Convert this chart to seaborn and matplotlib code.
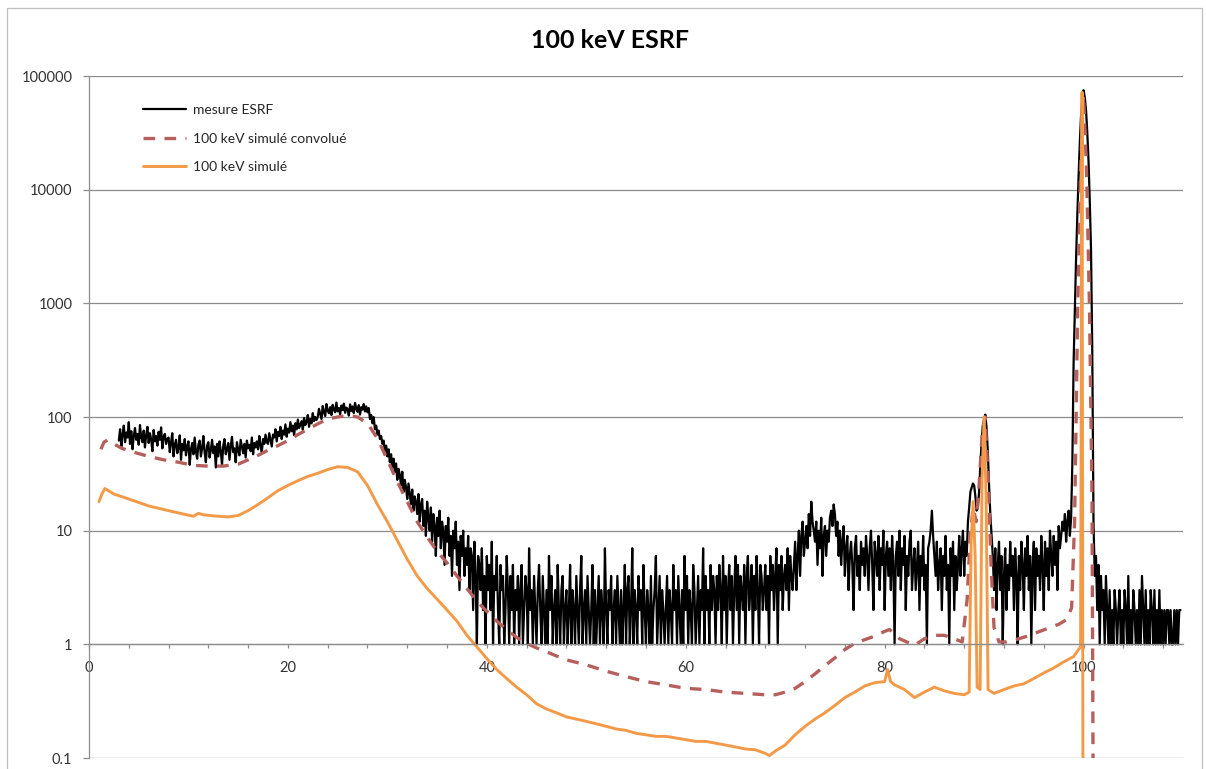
import numpy as np
import pandas as pd
import matplotlib
matplotlib.use("Agg")
import matplotlib.pyplot as plt
from matplotlib.ticker import FixedLocator, FuncFormatter, NullLocator
import seaborn as sns

# measured spectrum (ESRF), channels every 0.125 keV starting at 3 keV (one row = 2.5 keV)
meas_start = 3.0
meas_step = 0.125
meas_counts = [
    62, 78, 55, 70, 84, 60, 73, 66, 90, 58, 75, 52, 68, 80, 63, 71, 57, 85, 66, 60,
    76, 54, 69, 82, 59, 72, 64, 50, 77, 61, 68, 56, 74, 63, 81, 53, 67, 71, 58, 64,
    66, 49, 60, 72, 45, 57, 63, 48, 54, 69, 42, 58, 51, 64, 46, 55, 61, 38, 52, 59,
    47, 66, 50, 43, 57, 62, 45, 53, 68, 49, 40, 56, 60, 44, 51, 63, 48, 55, 36, 58,
    45, 61, 50, 38, 56, 64, 47, 52, 59, 42, 55, 67, 49, 53, 40, 60, 51, 46, 63, 55,
    48, 58, 44, 62, 53, 57, 50, 66, 47, 59, 54, 61, 52, 68, 56, 49, 64, 58, 70, 60,
    58, 72, 63, 55, 70, 66, 78, 61, 74, 68, 82, 64, 76, 70, 86, 67, 79, 73, 90, 75,
    84, 69, 88, 78, 95, 80, 86, 92, 77, 98, 85, 90, 104, 82, 96, 88, 108, 92, 100, 94,
    100, 118, 106, 96, 125, 110, 102, 130, 114, 108, 122, 104, 128, 116, 110, 134, 112, 120, 106, 126,
    115, 131, 109, 121, 117, 103, 129, 113, 124, 108, 133, 118, 111, 127, 105, 122, 116, 130, 112, 124,
    110, 120, 96, 104, 88, 100, 78, 84, 70, 76, 64, 68, 58, 62, 50, 56, 45, 52, 40, 47,
    36, 43, 33, 39, 28, 35, 31, 25, 33, 22, 28, 24, 19, 26, 21, 17, 23, 15, 20, 18,
    14, 21, 12, 17, 19, 11, 15, 9, 18, 13, 10, 16, 8, 14, 11, 6, 13, 9, 15, 7,
    12, 10, 5, 11, 8, 13, 6, 9, 4, 10, 7, 12, 5, 8, 3, 9, 6, 10, 4, 7,
    5, 9, 3, 7, 6, 2, 8, 4, 1, 6, 5, 3, 7, 2, 4, 1, 6, 3, 5, 2,
    8, 1, 4, 3, 6, 2, 1, 5, 3, 4, 1, 2, 6, 3, 1, 4, 2, 5, 1, 3,
    2, 4, 1, 3, 5, 1, 2, 4, 3, 1, 7, 2, 3, 1, 4, 2, 1, 3, 5, 2,
    1, 4, 2, 1, 3, 1, 6, 2, 4, 1, 2, 3, 1, 5, 2, 1, 3, 4, 1, 2,
    3, 1, 2, 5, 1, 3, 2, 1, 4, 2, 1, 3, 6, 1, 2, 3, 1, 4, 2, 1,
    2, 5, 1, 3, 1, 2, 4, 1, 3, 2, 1, 7, 2, 1, 3, 2, 4, 1, 2, 3,
    1, 4, 2, 1, 3, 1, 2, 5, 1, 3, 4, 1, 2, 7, 1, 3, 2, 1, 4, 2,
    3, 1, 5, 2, 1, 3, 2, 1, 4, 1, 2, 3, 6, 1, 2, 4, 1, 3, 2, 1,
    2, 4, 1, 3, 2, 1, 5, 2, 3, 1, 4, 2, 1, 3, 1, 6, 2, 4, 1, 3,
    2, 1, 5, 3, 1, 2, 4, 1, 3, 2, 7, 1, 4, 2, 3, 1, 5, 2, 4, 3,
    1, 4, 2, 5, 3, 1, 6, 2, 4, 1, 3, 5, 2, 4, 1, 3, 6, 2, 5, 1,
    4, 3, 2, 5, 1, 4, 6, 2, 3, 5, 1, 4, 2, 6, 3, 1, 5, 4, 2, 3,
    5, 2, 4, 1, 6, 3, 5, 2, 4, 7, 1, 5, 3, 6, 2, 4, 5, 3, 7, 2,
    6, 4, 3, 5, 8, 3, 6, 10, 4, 9, 12, 6, 8, 11, 7, 14, 9, 18, 12, 10,
    8, 12, 5, 10, 7, 13, 4, 9, 11, 6, 10, 8, 13, 15, 11, 17, 14, 9, 12, 6,
    10, 5, 8, 11, 4, 7, 9, 3, 6, 8, 5, 2, 7, 9, 4, 6, 3, 8, 5, 7,
    4, 9, 6, 3, 7, 10, 5, 2, 8, 6, 4, 9, 3, 7, 5, 10, 2, 6, 8, 4,
    7, 3, 9, 5, 1, 6, 8, 4, 10, 3, 7, 5, 9, 2, 6, 4, 8, 10, 3, 5,
    7, 3, 5, 8, 2, 6, 4, 9, 3, 5, 1, 7, 8, 10, 15, 9, 6, 4, 8, 3,
    5, 7, 2, 6, 4, 9, 3, 5, 1, 7, 4, 8, 2, 6, 3, 5, 9, 4, 7, 10,
    4, 8, 6, 12, 16, 22, 24, 26, 25, 20, 15, 16, 22, 38, 60, 85, 95, 105, 80, 50,
    25, 14, 9, 6, 3, 7, 2, 5, 8, 3, 6, 1, 4, 7, 2, 5, 3, 8, 4, 6,
    2, 7, 4, 1, 6, 3, 8, 5, 2, 7, 4, 9, 3, 6, 1, 5, 8, 2, 7, 4,
    6, 3, 9, 5, 2, 8, 4, 7, 3, 10, 6, 4, 9, 5, 8, 3, 11, 7, 9, 12,
    10, 14, 8, 12, 15, 9, 13, 40, 300, 900, 2500, 6000, 13000, 26000, 45000, 62000, 75000, 65000, 50000, 32000,
    18000, 8000, 3000, 400, 12, 4, 6, 2, 5, 1, 4, 2, 3, 1, 4, 2, 1, 3, 1, 2,
    1, 3, 2, 1, 2, 3, 1, 2, 1, 3, 2, 1, 4, 1, 2, 1, 3, 2, 1, 2,
    1, 3, 1, 4, 2, 1, 3, 1, 2, 1, 3, 2, 1, 3, 1, 2, 1, 3, 1, 2,
    1, 2, 1, 2, 2, 1, 2, 1, 1, 2, 1, 2, 1, 2, 2,
]

# simulated spectrum convolved with detector response
conv_energy = [1.2, 1.5, 1.9, 2.5, 3.3, 4.5, 6, 7.5, 9, 10.5, 12, 13.5, 15, 16, 17, 18, 19, 20,
               21, 22, 23, 24, 25, 26, 27, 28, 29, 30, 31, 32, 33, 34, 35, 36, 37, 38, 39, 40,
               41, 42, 43, 44, 45, 46, 47, 48, 50, 52, 54, 56, 58, 60, 62, 64, 66, 68, 69, 70,
               71, 72, 73, 74, 75, 76, 77, 78, 79, 80, 80.5, 81.5, 83, 84, 85, 86, 87, 87.8,
               88.3, 88.6, 88.9, 89.2, 89.5, 89.8, 90.1, 90.4, 90.7, 91.0, 91.5, 92.2, 93.5,
               94.6, 95.6, 96.6, 97.5, 98.3, 98.8, 99.1, 99.4, 99.7, 100.0, 100.3, 100.6,
               100.85, 101.0]
conv_counts = [52, 60, 63, 58, 53, 49, 45, 42, 40, 37.5, 37, 37, 38.5, 42, 46, 51, 56, 62,
               70, 78, 87, 96, 100, 103, 100, 88, 65, 42, 27, 18, 12, 8.8, 6.6, 5.2, 4.0, 3.1, 2.4, 1.95,
               1.6, 1.35, 1.15, 1.02, 0.93, 0.86, 0.79, 0.73, 0.66, 0.58, 0.52, 0.47, 0.44, 0.41, 0.40, 0.38, 0.37, 0.36, 0.36, 0.38,
               0.41, 0.47, 0.55, 0.65, 0.76, 0.9, 1.02, 1.1, 1.18, 1.3, 1.35, 1.12, 0.98, 1.12, 1.2, 1.2, 1.12, 1.05,
               2.5, 9, 16, 12, 25, 70, 100, 30, 5, 1.4, 1.05, 1.05, 1.12,
               1.2, 1.3, 1.4, 1.5, 1.65, 2.1, 12, 800, 15000, 68000, 15000, 900,
               20, 0.01]

# raw simulated spectrum
sim_energy = [1.0, 1.3, 1.6, 2.5, 4, 6, 8, 9.5, 10.5, 11, 11.5, 12.5, 14, 15, 16, 17, 18, 19,
              20, 21, 22, 23, 24, 25, 26, 27, 28, 29, 30, 31, 32, 33, 34, 35, 36, 37, 38, 39,
              40, 41, 42, 43, 44, 45, 46, 47, 48, 49, 50, 51, 52, 53, 54, 55, 56, 57, 58, 59,
              60, 61, 62, 63, 64, 65, 66, 67, 68, 68.4, 69, 70, 71, 72, 73, 74, 75, 76, 77, 78,
              79, 80, 80.3, 80.6, 81, 82, 83, 84, 85, 86, 87, 88, 88.5, 88.7, 88.9, 89.1, 89.3,
              89.6, 89.8, 90.0, 90.2, 90.4, 91, 92, 93, 94, 95, 96, 97, 98, 99, 99.5, 99.7,
              99.85, 99.95]
sim_counts = [18, 21, 23.5, 21, 19, 16.5, 15, 14, 13.4, 14.2, 13.8, 13.5, 13.2, 13.6, 15, 17, 19.5, 22.5,
              25, 27.5, 30, 32, 34.5, 36.5, 36, 33, 25, 17, 12, 8.2, 5.6, 4.0, 3.1, 2.5, 2.0, 1.6, 1.2, 0.95,
              0.75, 0.6, 0.5, 0.42, 0.36, 0.30, 0.27, 0.25, 0.23, 0.22, 0.21, 0.20, 0.19, 0.18, 0.175, 0.165, 0.16, 0.155, 0.155, 0.15,
              0.145, 0.14, 0.14, 0.135, 0.13, 0.125, 0.12, 0.118, 0.11, 0.105, 0.115, 0.13, 0.16, 0.19, 0.22, 0.25, 0.29, 0.34, 0.38, 0.43,
              0.46, 0.47, 0.6, 0.47, 0.44, 0.40, 0.34, 0.38, 0.42, 0.39, 0.37, 0.36, 0.38, 8, 18, 6, 0.42,
              0.40, 30, 100, 20, 0.4, 0.37, 0.40, 0.43, 0.45, 0.50, 0.56, 0.62, 0.70, 0.78, 0.9, 0.95,
              72000, 0.01]

meas_energy = meas_start + meas_step * np.arange(len(meas_counts))
df_meas = pd.DataFrame({"E": meas_energy, "N": meas_counts})
df_conv = pd.DataFrame({"E": conv_energy, "N": conv_counts})
df_sim = pd.DataFrame({"E": sim_energy, "N": sim_counts})

sns.set_style("white")
plt.rcParams["font.family"] = ["Lato", "DejaVu Sans"]

fig = plt.figure(figsize=(12.06, 7.69), dpi=100)
ax = fig.add_axes([89 / 1206, 1 - 758 / 769, (1183 - 89) / 1206, (758 - 76) / 769])

grey = "#8c8c8c"

sns.lineplot(data=df_meas, x="E", y="N", ax=ax, color="black", linewidth=1.6,
             estimator=None, sort=False, label="mesure ESRF")
sns.lineplot(data=df_conv, x="E", y="N", ax=ax, color="#b5605c", linewidth=2.4,
             estimator=None, sort=False, label="100 keV simulé convolué")
ax.lines[-1].set_dashes((3.5, 2.8))
sns.lineplot(data=df_sim, x="E", y="N", ax=ax, color="#f39a48", linewidth=2.1,
             estimator=None, sort=False, label="100 keV simulé")

ax.set_yscale("log")
ax.set_xlim(0, 110)
ax.set_ylim(0.1, 100000)
ax.set_xlabel("")
ax.set_ylabel("")

ax.yaxis.set_major_locator(FixedLocator([0.1, 1, 10, 100, 1000, 10000, 100000]))
ax.yaxis.set_minor_locator(NullLocator())
ax.yaxis.set_major_formatter(FuncFormatter(lambda v, p: "%g" % v))
ax.xaxis.set_major_locator(FixedLocator([0, 20, 40, 60, 80, 100]))
ax.xaxis.set_minor_locator(FixedLocator(list(range(4, 110, 4))))

ax.grid(axis="y", color=grey, linewidth=0.9)
ax.grid(axis="x", visible=False)
for side in ["top", "right"]:
    ax.spines[side].set_visible(False)
ax.spines["bottom"].set_position(("data", 1))
ax.spines["bottom"].set_color(grey)
ax.spines["left"].set_color(grey)
ax.spines["bottom"].set_linewidth(0.9)
ax.spines["left"].set_linewidth(0.9)

ax.tick_params(axis="y", which="major", direction="out", length=4, width=0.9, color=grey,
               pad=8, labelsize=10.5, labelcolor="#333333", left=True)
ax.tick_params(axis="x", which="both", direction="out", length=3, width=0.9, color=grey,
               pad=9, labelsize=10.5, labelcolor="#333333", bottom=True)

ax.legend(loc="upper left", bbox_to_anchor=(0.049, 0.959), frameon=False, fontsize=10,
          handlelength=3.1, handletextpad=0.5, labelspacing=1.2, borderpad=0,
          borderaxespad=0)

fig.text(0.506, 1 - 40 / 769, "100 keV ESRF", ha="center", va="center",
         fontsize=18, fontweight="bold", color="black")

# light chart border
fig.add_artist(plt.Rectangle((7 / 1206, -0.05), 1195 / 1206, 1 - 8 / 769 + 0.05,
                             fill=False, edgecolor="#bfbfbf", linewidth=0.9,
                             transform=fig.transFigure))

fig.savefig("out.png", dpi=100)
